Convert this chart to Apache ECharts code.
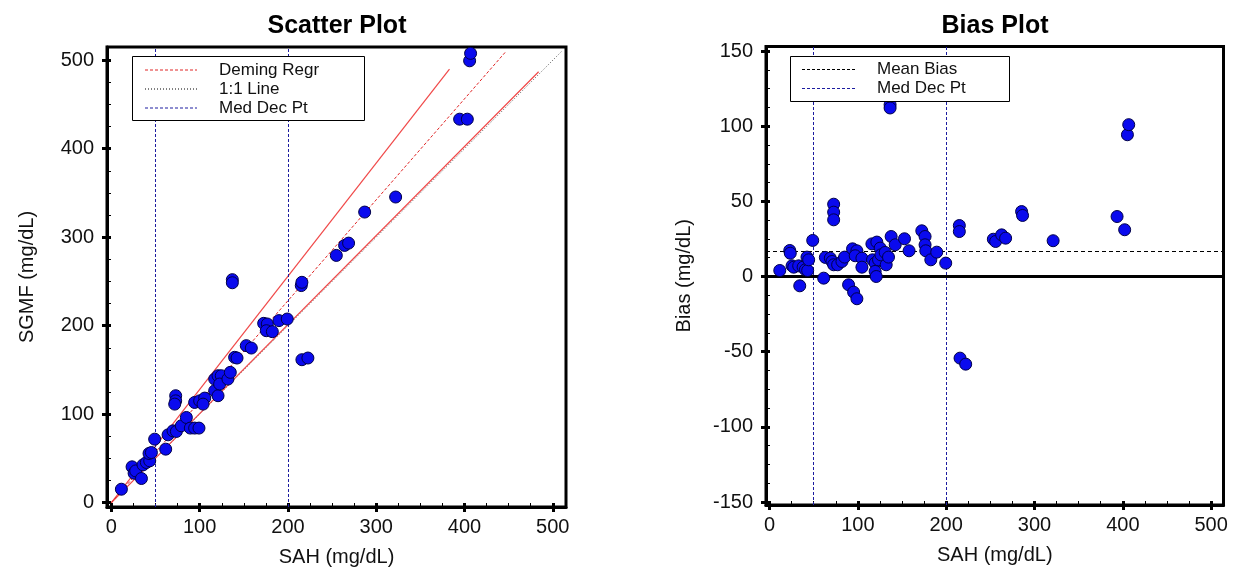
<!DOCTYPE html>
<html><head><meta charset="utf-8">
<script src="https://cdn.jsdelivr.net/npm/echarts@6/dist/echarts.min.js"></script>
<style>html,body{margin:0;padding:0;background:#fff}#c{width:1245px;height:582px}</style>
</head><body><div id="c"></div>
<script>
// ---------- DATA ----------
const sahScatter  = [11.3,23.4,25.7,27.5,34,35.8,39.6,43.4,42.6,45.3,49,61.5,64.2,69.8,73.6,79.2,72.8,72.8,71.7,84.9,89.4,94.3,99.2,94.3,100,105.7,103.8,117,120.8,117,120.8,124.5,122.6,132,134.7,137,137,139.6,142.3,152.8,158.5,172.5,176.6,175.5,182.3,189.8,199.2,215.1,215.8,215.8,222.6,254.8,264.2,268.7,286.9,322,394.5,403.2,405.8,406.9];
const sgmfScatter = [15.1,40.4,33.2,35.8,27.2,42.6,45.3,47.2,55.5,56.6,71.7,60.4,76.6,81.1,80.4,86.8,120.8,115,111.3,96.2,84.2,84.2,84.2,113.2,115,118.1,111.3,126.4,120.8,139.6,143.4,143.4,134,139.6,147.2,252,248.5,164.2,163.4,177.4,174.7,202.6,201.9,194.3,193.2,205.7,207.5,245.3,249,161.5,163.4,279.4,290.7,293.3,328.4,345.4,433.4,433.4,499.4,507.8];

const sahBias   = [11.6,22.9,23.5,25.5,27.4,34.2,33,38,40.6,43.2,42.4,44.3,48.9,61.3,63.2,68.8,70.7,72.6,77.1,82,85,72.6,72.6,72.6,94,98.9,97,104.6,104.6,89.5,95.2,98.9,115.9,121.5,116.6,119.6,119.6,120.8,123.4,125.3,126.1,130.9,132.1,134.7,136.5,136.5,137.7,142.3,152.8,158,172.4,176.1,176.1,176.9,182.6,189.3,199.5,214.9,214.9,215.7,222.1,253.4,256,262.8,267.3,285.4,286.5,321.1,393.5,402.1,405.2,406.7];
const biasValues = [4.0,17.3,15.5,7.1,6.2,-6.2,7.1,6.2,4.5,4.0,12.9,11.1,24,-1.1,12.7,12.2,10,7.8,7.8,10,12.9,48.1,42.8,37.7,18.4,17.1,13.8,12.2,6.2,-5.5,-10.4,-14.8,21.7,22.9,11.1,8.9,3.4,0,11.1,18.9,14.4,16,7.8,12.9,114.3,112.1,26.6,21.1,25.1,17.1,30.4,26.6,21.1,17.1,11.1,16.2,8.9,33.9,29.9,-54.3,-58.3,24.8,23.3,27.7,25.5,43.2,40.6,23.8,39.9,31.1,94.3,101];

const xTickLabels    = [0,100,200,300,400,500];
const scatterYTicks  = [0,100,200,300,400,500];
const biasYTicks     = [-150,-100,-50,0,50,100,150];

const medDecPts = [50, 200];
const demingX   = [0, 447],  demingY   = [0, 510];
const ciUpperX  = [0, 383],  ciUpperY  = [0, 490];
const ciLowerX  = [0, 484],  ciLowerY  = [0, 487];
const identityX = [0, 510],  identityY = [0, 510];
const meanBias  = 16.5;

// ---------- helpers ----------
const FONT = "'Liberation Sans', Arial, sans-serif";
const zip = (a,b)=>a.map((v,i)=>[v,b[i]]);
function minorVals(ticks, parts){
  const out=[]; for(let i=0;i<ticks.length-1;i++){const s=(ticks[i+1]-ticks[i])/parts; for(let k=1;k<parts;k++) out.push(ticks[i]+s*k);} return out;
}
function axisSet(kind, grid, min, max, ticks, name, nameGap, minorParts){
  const base = {type:'value', gridIndex:grid, min:min, max:max, splitLine:{show:false}};
  const pos = kind==='x' ? 'bottom' : 'left';
  const main = Object.assign({}, base, {
    position:pos,
    name:name, nameLocation:'middle', nameGap:nameGap,
    nameTextStyle:{fontFamily:FONT, fontSize:20, color:'#111'},
    axisLine:{show:true, onZero:false, lineStyle:{color:'#000', width:3}},
    axisTick:{show:true, inside:false, length:5, customValues:ticks, lineStyle:{color:'#000', width:3}},
    axisLabel:{show:true, customValues:ticks, margin:kind==='x'?10:13, fontFamily:FONT, fontSize:20, color:'#111'}
  });
  const inMajor = Object.assign({}, base, {
    position:pos, axisLine:{show:false, onZero:false}, axisLabel:{show:false},
    axisTick:{show:true, inside:true, length:4, customValues:ticks, lineStyle:{color:'#000', width:3}}
  });
  const inMinor = Object.assign({}, base, {
    position:pos, axisLine:{show:false, onZero:false}, axisLabel:{show:false},
    axisTick:{show:true, inside:true, length:4, customValues:minorVals(ticks, minorParts), lineStyle:{color:'#000', width:1}}
  });
  return [main, inMajor, inMinor];
}

const xAxes = [].concat(
  axisSet('x',0,-5,515,xTickLabels,'SAH (mg/dL)',40,4),
  axisSet('x',1,-4,514,xTickLabels,'SAH (mg/dL)',40,4)
);
const yAxes = [].concat(
  axisSet('y',0,-5,515,scatterYTicks,'SGMF (mg/dL)',70,4),
  axisSet('y',1,-152,153,biasYTicks,'Bias (mg/dL)',72,4)
);

const vLine = (v)=>({xAxis:v});
const series = [
  // --- scatter plot ---
  {type:'line', xAxisIndex:0, yAxisIndex:0, data:zip(identityX,identityY), showSymbol:false, silent:true, z:1,
   lineStyle:{color:'#555', width:1, type:[1,2]},
   markLine:{silent:true, symbol:['none','none'], label:{show:false},
     lineStyle:{color:'#1c1ca0', width:1, type:[3,2]}, data:medDecPts.map(vLine)}},
  {type:'line', xAxisIndex:0, yAxisIndex:0, data:zip(ciUpperX,ciUpperY), showSymbol:false, silent:true, z:2,
   lineStyle:{color:'#f04848', width:1.2, type:'solid'}},
  {type:'line', xAxisIndex:0, yAxisIndex:0, data:zip(ciLowerX,ciLowerY), showSymbol:false, silent:true, z:2,
   lineStyle:{color:'#f04848', width:1.2, type:'solid'}},
  {type:'line', xAxisIndex:0, yAxisIndex:0, data:zip(demingX,demingY), showSymbol:false, silent:true, z:2,
   lineStyle:{color:'#e02424', width:1, type:[3,2]}},
  {type:'scatter', xAxisIndex:0, yAxisIndex:0, data:zip(sahScatter,sgmfScatter), symbol:'circle', symbolSize:12, z:5,
   itemStyle:{color:'#0a0aee', borderColor:'#00004a', borderWidth:1, opacity:1}},
  // --- bias plot ---
  {type:'line', xAxisIndex:3, yAxisIndex:3, data:[], showSymbol:false, silent:true, z:1,
   markLine:{silent:true, symbol:['none','none'], label:{show:false},
     data:[
       {xAxis:medDecPts[0], lineStyle:{color:'#1c1ca0', width:1, type:[3,2]}},
       {xAxis:medDecPts[1], lineStyle:{color:'#1c1ca0', width:1, type:[3,2]}},
       {yAxis:meanBias, lineStyle:{color:'#000', width:1, type:[4,3]}},
       {yAxis:0, lineStyle:{color:'#000', width:3, type:'solid'}}
     ]}},
  {type:'scatter', xAxisIndex:3, yAxisIndex:3, data:zip(sahBias,biasValues), symbol:'circle', symbolSize:12, z:5,
   itemStyle:{color:'#0a0aee', borderColor:'#00004a', borderWidth:1, opacity:1}}
];

function legendBox(x,y,w,h,rows){
  const els=[{type:'rect', shape:{x:x,y:y,width:w,height:h}, style:{fill:'#fff', stroke:'#000', lineWidth:1}, z:20}];
  rows.forEach(r=>{
    els.push({type:'line', shape:{x1:r.lx1,y1:r.y,x2:r.lx2,y2:r.y}, style:{stroke:r.color, lineWidth:1, lineDash:r.dash}, z:21});
    els.push({type:'text', x:r.tx, y:r.y, style:{text:r.text, font:"17px "+FONT, fill:'#111', textVerticalAlign:'middle'}, z:21});
  });
  return els;
}

const graphic = [].concat(
  legendBox(132.5,56.5,232,64,[
    {y:70, lx1:145, lx2:197, tx:219, text:'Deming Regr', color:'#e02424', dash:[3,2]},
    {y:89, lx1:145, lx2:197, tx:219, text:'1:1 Line', color:'#000', dash:[1,2]},
    {y:108, lx1:145, lx2:197, tx:219, text:'Med Dec Pt', color:'#1c1ca0', dash:[3,2]}
  ]),
  legendBox(790.5,56.5,219,45,[
    {y:69.5, lx1:802, lx2:855, tx:877, text:'Mean Bias', color:'#000', dash:[3,2]},
    {y:88.5, lx1:802, lx2:855, tx:877, text:'Med Dec Pt', color:'#1c1ca0', dash:[3,2]}
  ])
);

const option = {
  animation:false,
  backgroundColor:'#fff',
  title:[
    {text:'Scatter Plot', left:332, top:9, textAlign:'center', textStyle:{fontFamily:FONT, fontSize:25, fontWeight:'bold', color:'#000'}},
    {text:'Bias Plot', left:990, top:9, textAlign:'center', textStyle:{fontFamily:FONT, fontSize:25, fontWeight:'bold', color:'#000'}}
  ],
  grid:[
    {left:107, top:47, width:459, height:460, show:true, borderColor:'#000', borderWidth:3, backgroundColor:'transparent'},
    {left:766, top:46.5, width:457.5, height:458.5, show:true, borderColor:'#000', borderWidth:3, backgroundColor:'transparent'}
  ],
  xAxis:xAxes,
  yAxis:yAxes,
  series:series,
  graphic:graphic
};
const chart = echarts.init(document.getElementById('c'), null, {renderer:'canvas'});
chart.setOption(option);
</script></body></html>
